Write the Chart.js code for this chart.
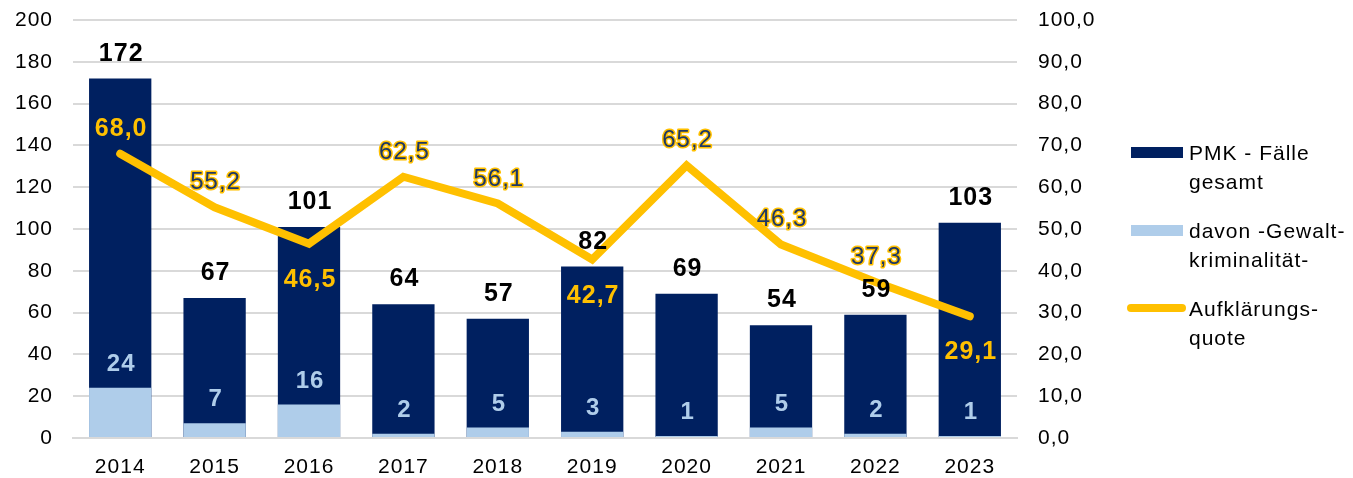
<!DOCTYPE html>
<html lang="de">
<head>
<meta charset="utf-8">
<title>PMK - Fälle</title>
<script src="https://cdn.jsdelivr.net/npm/chart.js@4.4.0/dist/chart.umd.min.js"></script>
<style>
  body { margin: 0; background: #fff; font-family: "Liberation Sans", Arial, sans-serif; }
  .wrap { position: relative; width: 1353px; height: 478px; }
  .legend { position: absolute; left: 1126px; top: 138px; font-size: 21px; line-height: 29px; color: #000; letter-spacing: 1px; }
  .legend .item { position: relative; padding-left: 63px; margin-bottom: 20px; }
  .legend .sw { position: absolute; left: 5px; top: 9px; width: 52px; height: 11px; }
  .legend .sw.line { left: 1px; top: 10px; width: 59px; height: 8px; border-radius: 4px; }
</style>
</head>
<body>
<div class="wrap">
  <canvas id="chart" width="1353" height="478"></canvas>
  <div class="legend" id="legend"></div>
</div>
<script>
const years = ['2014','2015','2016','2017','2018','2019','2020','2021','2022','2023'];
const faelle = [172, 67, 101, 64, 57, 82, 69, 54, 59, 103];
const gewalt = [24, 7, 16, 2, 5, 3, 1, 5, 2, 1];
const quote = [68.0, 55.2, 46.5, 62.5, 56.1, 42.7, 65.2, 46.3, 37.3, 29.1];
const quotePos = ['above','above','below','above','above','below','above','above','above','below'];

const NAVY = '#002060';
const LIGHT = '#AFCDEA';
const GOLD = '#FFC000';
const FONT = '"Liberation Sans", Arial, sans-serif';
const SPACING = '1px';

const fmt1 = v => v.toFixed(1).replace('.', ',');

// slightly wider text, like the reference
const spacingPlugin = {
  id: 'spacing',
  beforeDraw(chart) { chart.ctx.letterSpacing = SPACING; }
};

// value labels
const labelPlugin = {
  id: 'valueLabels',
  afterDatasetsDraw(chart) {
    const ctx = chart.ctx;
    const barsTotal = chart.getDatasetMeta(0).data;
    const barsGew = chart.getDatasetMeta(1).data;
    const pts = chart.getDatasetMeta(2).data;
    ctx.save();
    ctx.letterSpacing = SPACING;
    ctx.textAlign = 'center';
    ctx.textBaseline = 'alphabetic';

    ctx.font = 'bold 25px ' + FONT;
    ctx.fillStyle = '#000';
    barsTotal.forEach((b, i) => ctx.fillText(faelle[i], b.x + 1, b.y - 18));

    ctx.font = 'bold 24px ' + FONT;
    ctx.fillStyle = LIGHT;
    barsGew.forEach((b, i) => ctx.fillText(gewalt[i], b.x + 1, b.y - 17));

    ctx.lineJoin = 'round';
    pts.forEach((p, i) => {
      const base = quotePos[i] === 'above' ? p.y - 18 : p.y + 43;
      const bar = barsTotal[i];
      const inBar = base - 17 > bar.y && base < bar.base;
      const txt = fmt1(quote[i]);
      if (inBar) {
        ctx.font = 'bold 25px ' + FONT;
        ctx.fillStyle = GOLD;
        ctx.fillText(txt, p.x + 1, base);
      } else {
        ctx.font = '24px ' + FONT;
        ctx.lineWidth = 3;
        ctx.strokeStyle = GOLD;
        ctx.strokeText(txt, p.x + 1, base);
        ctx.fillStyle = '#1F3864';
        ctx.fillText(txt, p.x + 1, base);
      }
    });
    ctx.restore();
  }
};

const noPad = s => { s.paddingTop = 0; s.paddingBottom = 0; };

new Chart(document.getElementById('chart'), {
  type: 'bar',
  data: {
    labels: years,
    datasets: [
      { label: 'PMK - Fälle gesamt', data: faelle, backgroundColor: NAVY, order: 2,
        grouped: false, barPercentage: 0.66, categoryPercentage: 1, yAxisID: 'y' },
      { label: 'davon -Gewalt- kriminalität-', data: gewalt, backgroundColor: LIGHT, order: 1,
        grouped: false, barPercentage: 0.66, categoryPercentage: 1, yAxisID: 'y' },
      { type: 'line', label: 'Aufklärungs- quote', data: quote, borderColor: GOLD, borderWidth: 8,
        pointRadius: 0, tension: 0, borderCapStyle: 'round', borderJoinStyle: 'miter',
        order: 0, yAxisID: 'y1' }
    ]
  },
  options: {
    responsive: false,
    animation: false,
    layout: { autoPadding: false, padding: { top: 20, left: 0, right: 0, bottom: 0 } },
    plugins: { legend: { display: false }, tooltip: { enabled: false } },
    scales: {
      x: {
        afterFit: s => { s.height = 40; },
        grid: { display: false, drawTicks: false },
        border: { color: '#D9D9D9', width: 2 },
        ticks: { color: '#000', font: { family: FONT, size: 21 }, padding: 17 }
      },
      y: {
        min: 0, max: 200,
        afterFit: s => { s.width = 73; noPad(s); },
        grid: { color: '#D9D9D9', lineWidth: 2, drawTicks: false },
        border: { display: false },
        ticks: { stepSize: 20, color: '#000', font: { family: FONT, size: 21 }, padding: 20 }
      },
      y1: {
        position: 'right',
        min: 0, max: 100,
        afterFit: s => { s.width = 336; noPad(s); },
        grid: { display: false, drawTicks: false },
        border: { display: false },
        ticks: { stepSize: 10, color: '#000', font: { family: FONT, size: 21 }, padding: 21,
          callback: v => fmt1(v) }
      }
    }
  },
  plugins: [spacingPlugin, labelPlugin]
});

// legend
const legendItems = [
  { lines: ['PMK - Fälle', 'gesamt'], color: NAVY, kind: 'box' },
  { lines: ['davon -Gewalt-', 'kriminalität-'], color: LIGHT, kind: 'box' },
  { lines: ['Aufklärungs-', 'quote'], color: GOLD, kind: 'line' }
];
document.getElementById('legend').innerHTML = legendItems.map(it =>
  `<div class="item"><span class="sw ${it.kind === 'line' ? 'line' : ''}" style="background:${it.color}"></span>${it.lines.join('<br>')}</div>`
).join('');
</script>
</body>
</html>
